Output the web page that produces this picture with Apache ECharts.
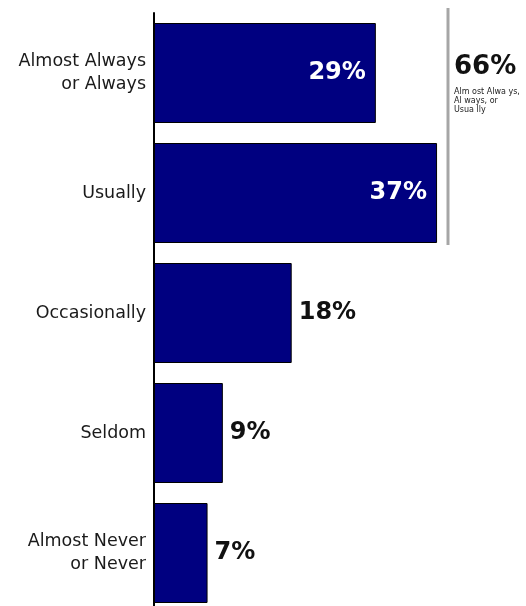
<!DOCTYPE html>
<html>
<head>
<meta charset="utf-8">
<script src="https://cdn.jsdelivr.net/npm/echarts@6/dist/echarts.min.js"></script>
<style>html,body{margin:0;padding:0;background:#fff;overflow:hidden}#c{width:526px;height:613px}</style>
</head>
<body>
<div id="c"></div>
<script>
const categories = ['Almost Always\nor Always', 'Usually', 'Occasionally', 'Seldom', 'Almost Never\nor Never'];
const values = [29, 37, 18, 9, 7];
const insideFlags = [true, true, false, false, false];
const summaryValue = '66%';
const summaryText = 'Alm ost Alwa ys,\nAl ways, or\nUsua lly';

const chart = echarts.init(document.getElementById('c'), null, {renderer: 'canvas'});
const data = values.map((v, i) => ({
  value: v,
  label: insideFlags[i]
    ? {position: 'insideRight', distance: 10, color: '#ffffff'}
    : {position: 'right', distance: 7, color: '#111111'}
}));
chart.setOption({
  animation: false,
  grid: {left: 154, width: 306, top: 13, bottom: 0, containLabel: false},
  xAxis: {type: 'value', min: 0, max: 40, show: false},
  yAxis: {
    type: 'category', data: categories, inverse: true,
    axisLine: {show: true, lineStyle: {color: '#000', width: 2}},
    axisTick: {show: false},
    axisLabel: {margin: 8, fontFamily: 'DejaVu Sans', fontSize: 17.5, color: '#1a1a1a', lineHeight: 23, align: 'right'}
  },
  series: [{
    type: 'bar',
    data: data,
    barWidth: 100,
    itemStyle: {color: '#000080', borderColor: '#000', borderWidth: 1},
    label: {show: true, formatter: '{c}%', fontFamily: 'DejaVu Sans', fontWeight: 'bold', fontSize: 24}
  }],
  graphic: [
    {type: 'line', shape: {x1: 448, y1: 8, x2: 448, y2: 245}, style: {stroke: '#a6a6a6', lineWidth: 3}},
    {type: 'text', left: 454, top: 54, style: {text: summaryValue, font: 'bold 26px "DejaVu Sans"', fill: '#111'}},
    {type: 'text', left: 454, top: 87, style: {text: summaryText, font: '8px "DejaVu Sans"', fill: '#222', lineHeight: 9}}
  ]
});
</script>
</body>
</html>
